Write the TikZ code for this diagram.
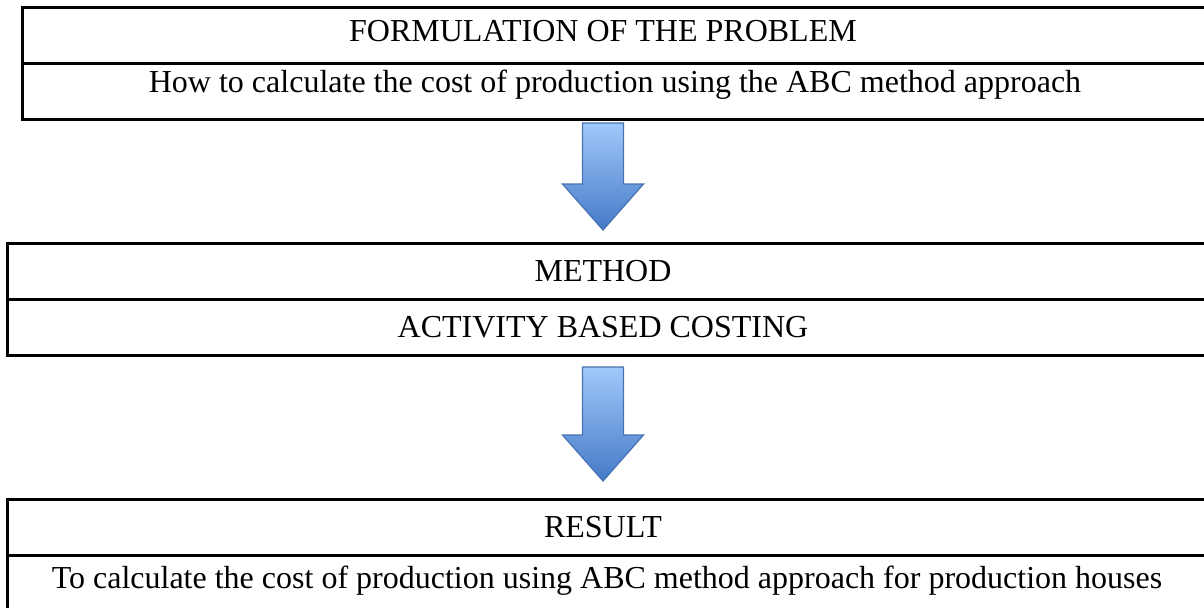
\documentclass[tikz,border=0pt]{standalone}
\usepackage{fontspec}
\setmainfont{Liberation Serif}
\usetikzlibrary{positioning}
\usetikzlibrary{calc}
\definecolor{arrowtop}{RGB}{162,200,250}
\definecolor{arrowbot}{RGB}{68,122,200}
\definecolor{arrowline}{RGB}{72,114,178}
\tikzset{cell/.style={shape=rectangle, draw, line width=1.5pt,
    outer sep=0pt, inner sep=0pt, minimum height=28pt},
  cell text/.style={font=\fontsize{16}{19}\selectfont},
  flow arrow/.style={draw=arrowline, line width=0.6pt,
    top color=arrowtop, bottom color=arrowbot}}
% block arrow from #1 (top of shaft) down to #2 (tip)
\newcommand{\flowarrow}[2]{%
  \path[flow arrow] ($(#1)+(-20.5,0)$) -- ($(#1)+(20.5,0)$)
    -- ($(#2)+(20.5,-46)$) -- ($(#2)+(40.5,-46)$) -- (#2)
    -- ($(#2)+(-40.5,-46)$) -- ($(#2)+(-20.5,-46)$) -- cycle;}

\begin{document}
\begin{tikzpicture}[x=0.5pt, y=-0.5pt]
    \useasboundingbox (0,0) rectangle (1204,607);
    \coordinate (centre) at (606,0);

    \node[cell, minimum width=609pt, anchor=north west] (probhead) at (22,7) {};
    \node[cell, minimum width=609pt, below=0pt of probhead] (probbody) {};

    \node[cell, minimum width=616pt, anchor=north west] (methhead) at (7,243) {};
    \node[cell, minimum width=616pt, below=0pt of methhead] (methbody) {};

    \node[cell, minimum width=616pt, anchor=north west] (reshead) at (7,499) {};
    \node[cell, minimum width=616pt, below=0pt of reshead] (resbody) {};

    \node[cell text] (probtitle) at ($(probhead.center -| centre)+(-3,-4)$) {FORMULATION OF THE PROBLEM};
    \node[cell text] (probtext) at ($(probbody.center -| centre)+(9,-6)$) {How to calculate the cost of production using the ABC method approach};
    \node[cell text] (methtitle) at ($(methhead.center -| centre)+(-3,0)$) {METHOD};
    \node[cell text] (methtext) at ($(methbody.center -| centre)+(-3,0)$) {ACTIVITY BASED COSTING};
    \node[cell text] (restitle) at ($(reshead.center -| centre)+(-3,0)$) {RESULT};
    \node[cell text] (restext) at ($(resbody.center -| centre)+(1,-2)$) {To calculate the cost of production using ABC method approach for production houses};

    \coordinate (a1top) at ($(probbody.south -| centre)+(-3,4)$);
    \coordinate (a1tip) at ($(methhead.north -| centre)+(-3,-13)$);
    \coordinate (a2top) at ($(methbody.south -| centre)+(-3,12)$);
    \coordinate (a2tip) at ($(reshead.north -| centre)+(-3,-18)$);
    \flowarrow{a1top}{a1tip}
    \flowarrow{a2top}{a2tip}
\end{tikzpicture}
\end{document}
